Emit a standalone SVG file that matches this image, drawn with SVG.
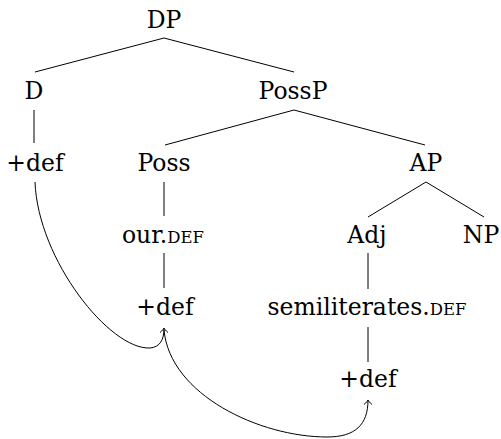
<svg xmlns="http://www.w3.org/2000/svg" width="501" height="439" viewBox="0 0 501 439">
<style>
.t text{font-size:23.5px;fill:#000;text-anchor:middle}
.sc{font-size:16.5px}
.e{stroke:#000;stroke-width:1;fill:none}
</style>
<defs>
<marker id="ah" markerUnits="userSpaceOnUse" orient="auto" markerWidth="12" markerHeight="12" refX="0" refY="0" viewBox="-6 -6 12 12" overflow="visible">
<path d="M-4.5,-4 C-2.5,-1.5 -0.8,-0.4 0,0 C-0.8,0.4 -2.5,1.5 -4.5,4" fill="none" stroke="#000" stroke-width="1"/>
</marker>
</defs>
<rect width="501" height="439" fill="#fff"/>
<g id="edges">
<line class="e" x1="164" y1="38" x2="35" y2="72"/>
<line class="e" x1="164" y1="38" x2="294" y2="72"/>
<line class="e" x1="34" y1="110" x2="34" y2="143"/>
<line class="e" x1="294" y1="110" x2="165" y2="145"/>
<line class="e" x1="294" y1="110" x2="425" y2="145"/>
<line class="e" x1="164" y1="182" x2="164" y2="216"/>
<line class="e" x1="426" y1="182" x2="368" y2="217"/>
<line class="e" x1="426" y1="182" x2="484" y2="217"/>
<line class="e" x1="164" y1="253" x2="164" y2="288"/>
<line class="e" x1="368" y1="253" x2="368" y2="289"/>
<line class="e" x1="368" y1="327" x2="368" y2="362"/>
<path class="e" d="M35,182 C38,260 110,350 150,348 C160,347 164,340 164,328" marker-end="url(#ah)"/>
<path class="e" d="M164,330 C170,395 260,437 327,437 C355,437 368,425 368,400" marker-end="url(#ah)"/>
</g>
<g class="t" font-family="DejaVu Serif, serif">
<g id="DP"><text x="164" y="28">DP</text></g>
<g id="D"><text x="34" y="99">D</text></g>
<g id="PossP"><text x="293" y="99">PossP</text></g>
<g id="def1"><text x="35" y="171">+def</text></g>
<g id="Poss"><text x="164" y="171">Poss</text></g>
<g id="AP"><text x="426" y="171">AP</text></g>
<g id="our"><text x="163" y="243">our.<tspan class="sc">DEF</tspan></text></g>
<g id="Adj"><text x="367" y="243">Adj</text></g>
<g id="NP"><text x="481" y="243">NP</text></g>
<g id="def2"><text x="165" y="315">+def</text></g>
<g id="semi"><text x="367" y="315">semiliterates.<tspan class="sc">DEF</tspan></text></g>
<g id="def3"><text x="368" y="387">+def</text></g>
</g>
</svg>
